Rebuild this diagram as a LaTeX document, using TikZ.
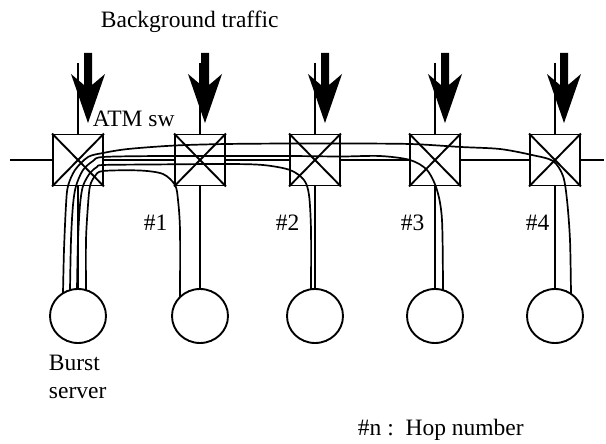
\documentclass[tikz,border=0pt]{standalone}
\usepackage{fontspec}
\setmainfont{Liberation Serif}
\usetikzlibrary{shapes.geometric}
\begin{document}
\begin{tikzpicture}[x=1pt,y=-1pt,line width=1.9pt,
  swbox/.style={draw,minimum width=50pt,minimum height=51pt,inner sep=0pt},
  host/.style={draw,ellipse,minimum width=56pt,minimum height=54pt,inner sep=0pt},
  lbl/.style={font=\fontsize{23.5}{28}\selectfont,inner sep=0pt,anchor=base west},
  route/.style={line width=1.7pt}]
\path[use as bounding box] (0,0) rectangle (606,444);
% switches and hosts
\foreach \n/\x in {1/78,2/200,3/315,4/435,5/555}{
  \node[swbox] (b\n) at (\x,160) {};
  \node[host] (c\n) at (\x,316) {};
  \coordinate (t\n) at (\x,63);
}
\foreach \n in {1,...,5}{
  \draw (b\n.north west) -- (b\n.south east) (b\n.north east) -- (b\n.south west);
  \draw (t\n) -- (b\n.north);
  \draw (b\n.south) -- (c\n.north);
}
% main line
\coordinate (L) at (10,160);
\coordinate (R) at (604,160);
\draw (L) -- (b1.west);
\draw (b1.east) -- (b2.west);
\draw (b2.east) -- (b3.west);
\draw (b3.east) -- (b4.west);
\draw (b4.east) -- (b5.west);
\draw (b5.east) -- (R);
% background traffic arrows
\foreach \a in {88,205,325,445,564}{
  \fill ({\a-4},53) -- ({\a+4},53) -- ({\a+4},85) -- ({\a+17},74) -- (\a,123)
        -- ({\a-17},74) -- ({\a-4},85) -- cycle;
}
% burst routes
\draw[route] plot[smooth,tension=0.5] coordinates {(63,293) (64,250) (66,205) (68,186) (75,170) (88,157) (103,153) (128,149) (175,145.5) (226,144) (290,143.5) (341,143.5) (410,144) (461,147) (500,149) (532,155) (553,161) (563,176) (567,200) (570,240) (571,294)};
\draw[route] plot[smooth,tension=0.5] coordinates {(70,290) (71,240) (73,205) (76,186) (83,170) (93,161) (103,157) (160,156) (226,156) (290,156) (341,156.5) (380,156) (410,160) (427,170) (437,190) (442,220) (443,290)};
\draw[route] plot[smooth,tension=0.5] coordinates {(77,289) (78,240) (80,205) (83,186) (90,173) (97,167) (103,165) (150,164.5) (226,164) (263,165) (290,170) (304,180) (309,195) (311,230) (311,289.5)};
\draw[route] plot[smooth,tension=0.5] coordinates {(86,290) (86,240) (88,205) (90,186) (95,176) (103,171) (140,170.5) (163,174) (175,185) (178,200) (180,230) (180,297)};
% labels
\node[lbl] (bg) at (100,28) {Background traffic};
\node[lbl] (atm) at (92,127) {ATM sw};
\node[lbl] (h1) at (143,230) {\#1};
\node[lbl] (h2) at (275,230) {\#2};
\node[lbl] (h3) at (400,230) {\#3};
\node[lbl] (h4) at (525,230) {\#4};
\node[lbl] (bs1) at (48,370) {Burst};
\node[lbl] (bs2) at (48,398) {server};
\node[lbl] (key) at (357,435) {\#n :\ \ Hop number};
\end{tikzpicture}
\end{document}
